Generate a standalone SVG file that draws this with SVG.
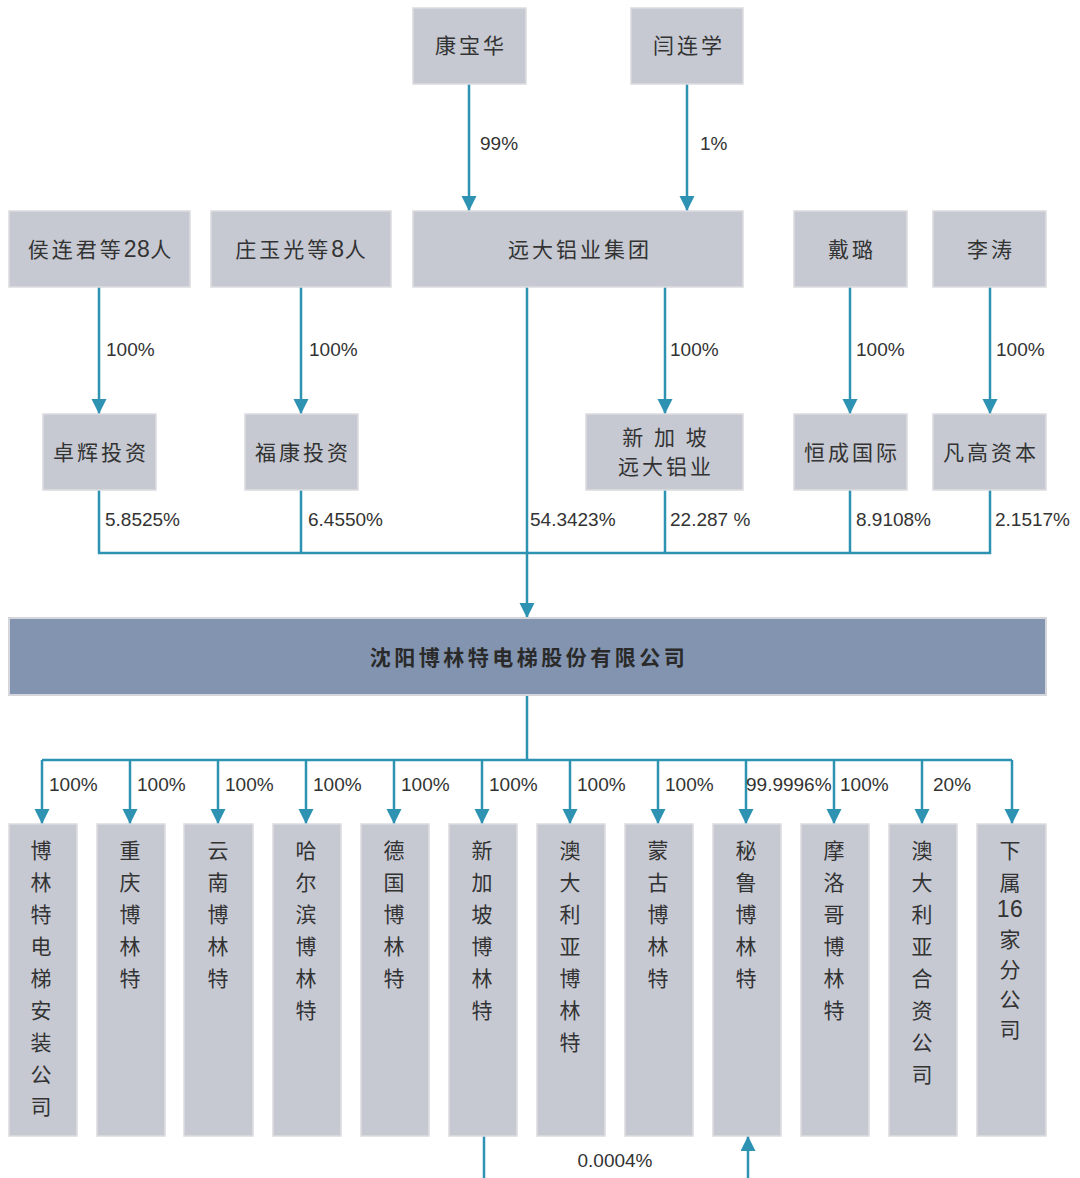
<svg xmlns="http://www.w3.org/2000/svg" width="1080" height="1178" viewBox="0 0 1080 1178">
<style>
.box{fill:#c6c9d2;stroke:#dcdcdf;stroke-width:1.5}
.main{fill:#8294b0;stroke:#d4d6dc;stroke-width:2}
.t{font-family:"Noto Sans CJK SC","Liberation Sans",sans-serif;font-size:21px;fill:#333;text-anchor:middle;letter-spacing:3px}
.tb{font-family:"Noto Sans CJK SC","Liberation Sans",sans-serif;font-size:21px;font-weight:bold;fill:#2a2a2a;text-anchor:middle;letter-spacing:3.5px}
.v{font-family:"Noto Sans CJK SC","Liberation Sans",sans-serif;font-size:21px;fill:#333;text-anchor:middle}
.num{font-family:"Liberation Sans",Arial,sans-serif;letter-spacing:0.5px}
.lbl{font-family:"Liberation Sans",Arial,sans-serif;font-size:19px;fill:#333}
.ln{fill:none;stroke:#2e93b2;stroke-width:2.5}
</style>
<defs>
<marker id="arr" markerUnits="userSpaceOnUse" markerWidth="16" markerHeight="16" refX="15" refY="7.5" orient="auto">
<path d="M0,0 L15,7.5 L0,15 z" fill="#2e93b2"/>
</marker>
</defs>

<g id="connectors">
<line class="ln" x1="469" y1="84" x2="469" y2="211" marker-end="url(#arr)"/>
<line class="ln" x1="687" y1="84" x2="687" y2="211" marker-end="url(#arr)"/>
<line class="ln" x1="99" y1="287" x2="99" y2="414" marker-end="url(#arr)"/>
<line class="ln" x1="301" y1="287" x2="301" y2="414" marker-end="url(#arr)"/>
<line class="ln" x1="665" y1="287" x2="665" y2="414" marker-end="url(#arr)"/>
<line class="ln" x1="850" y1="287" x2="850" y2="414" marker-end="url(#arr)"/>
<line class="ln" x1="990" y1="287" x2="990" y2="414" marker-end="url(#arr)"/>
<polyline class="ln" points="99,490 99,553 990,553 990,490"/>
<line class="ln" x1="301" y1="490" x2="301" y2="553"/>
<line class="ln" x1="665" y1="490" x2="665" y2="553"/>
<line class="ln" x1="850" y1="490" x2="850" y2="553"/>
<line class="ln" x1="527" y1="287" x2="527" y2="618" marker-end="url(#arr)"/>
<line class="ln" x1="527" y1="695" x2="527" y2="760"/>
<line class="ln" x1="42" y1="760" x2="1012" y2="760"/>
<line class="ln" x1="42" y1="760" x2="42" y2="824" marker-end="url(#arr)"/>
<line class="ln" x1="130" y1="760" x2="130" y2="824" marker-end="url(#arr)"/>
<line class="ln" x1="218" y1="760" x2="218" y2="824" marker-end="url(#arr)"/>
<line class="ln" x1="306" y1="760" x2="306" y2="824" marker-end="url(#arr)"/>
<line class="ln" x1="394" y1="760" x2="394" y2="824" marker-end="url(#arr)"/>
<line class="ln" x1="482" y1="760" x2="482" y2="824" marker-end="url(#arr)"/>
<line class="ln" x1="570" y1="760" x2="570" y2="824" marker-end="url(#arr)"/>
<line class="ln" x1="658" y1="760" x2="658" y2="824" marker-end="url(#arr)"/>
<line class="ln" x1="746" y1="760" x2="746" y2="824" marker-end="url(#arr)"/>
<line class="ln" x1="834" y1="760" x2="834" y2="824" marker-end="url(#arr)"/>
<line class="ln" x1="922" y1="760" x2="922" y2="824" marker-end="url(#arr)"/>
<line class="ln" x1="1012" y1="760" x2="1012" y2="824" marker-end="url(#arr)"/>
<line class="ln" x1="484" y1="1136" x2="484" y2="1178"/>
<line class="ln" x1="748" y1="1178" x2="748" y2="1136" marker-end="url(#arr)"/>

<text class="lbl" x="480" y="150">99%</text>
<text class="lbl" x="700" y="150">1%</text>
<text class="lbl" x="106" y="356">100%</text>
<text class="lbl" x="309" y="356">100%</text>
<text class="lbl" x="670" y="356">100%</text>
<text class="lbl" x="856" y="356">100%</text>
<text class="lbl" x="996" y="356">100%</text>
<text class="lbl" x="105" y="526">5.8525%</text>
<text class="lbl" x="308" y="526">6.4550%</text>
<text class="lbl" x="530" y="526">54.3423%</text>
<text class="lbl" x="670" y="526">22.287 %</text>
<text class="lbl" x="856" y="526">8.9108%</text>
<text class="lbl" x="995" y="526">2.1517%</text>
<text class="lbl" x="49" y="791">100%</text>
<text class="lbl" x="137" y="791">100%</text>
<text class="lbl" x="225" y="791">100%</text>
<text class="lbl" x="313" y="791">100%</text>
<text class="lbl" x="401" y="791">100%</text>
<text class="lbl" x="489" y="791">100%</text>
<text class="lbl" x="577" y="791">100%</text>
<text class="lbl" x="665" y="791">100%</text>
<text class="lbl" x="746" y="791">99.9996%</text>
<text class="lbl" x="840" y="791">100%</text>
<text class="lbl" x="933" y="791">20%</text>
<text class="lbl" x="615" y="1167" text-anchor="middle">0.0004%</text>
</g>

<g id="n-kangbaohua"><rect class="box" x="413" y="8" width="113" height="76"/><text class="t" x="471" y="53">康宝华</text></g>
<g id="n-yanlianxue"><rect class="box" x="631" y="8" width="112" height="76"/><text class="t" x="689" y="53">闫连学</text></g>
<g id="n-yuanda"><rect class="box" x="413" y="211" width="330" height="76"/><text class="t" x="580" y="257">远大铝业集团</text></g>
<g id="n-houlianjun"><rect class="box" x="9" y="211" width="181" height="76"/><text class="t" x="101" y="257">侯连君等<tspan class="num" font-size="23">28</tspan>人</text></g>
<g id="n-zhuangyuguang"><rect class="box" x="211" y="211" width="180" height="76"/><text class="t" x="302" y="257">庄玉光等<tspan class="num" font-size="23">8</tspan>人</text></g>
<g id="n-dailu"><rect class="box" x="794" y="211" width="113" height="76"/><text class="t" x="852" y="257">戴璐</text></g>
<g id="n-litao"><rect class="box" x="933" y="211" width="113" height="76"/><text class="t" x="991" y="257">李涛</text></g>

<g id="n-zhuohui"><rect class="box" x="43" y="414" width="113" height="76"/><text class="t" x="101" y="460">卓辉投资</text></g>
<g id="n-fukang"><rect class="box" x="245" y="414" width="113" height="76"/><text class="t" x="303" y="460">福康投资</text></g>
<g id="n-sgyuanda"><rect class="box" x="586" y="414" width="157" height="76"/><text class="t" x="666" y="445">新 加 坡</text><text class="t" x="666" y="474">远大铝业</text></g>
<g id="n-hengcheng"><rect class="box" x="794" y="414" width="113" height="76"/><text class="t" x="852" y="460">恒成国际</text></g>
<g id="n-fangao"><rect class="box" x="933" y="414" width="113" height="76"/><text class="t" x="991" y="460">凡高资本</text></g>

<g id="n-main"><rect class="main" x="9" y="618" width="1037" height="77"/><text class="tb" x="529" y="665">沈阳博林特电梯股份有限公司</text></g>

<g id="n-s1"><rect class="box" x="9" y="824" width="68" height="312"/><text class="v"><tspan x="41" y="858">博</tspan><tspan x="41" y="890">林</tspan><tspan x="41" y="922">特</tspan><tspan x="41" y="954">电</tspan><tspan x="41" y="986">梯</tspan><tspan x="41" y="1018">安</tspan><tspan x="41" y="1050">装</tspan><tspan x="41" y="1082">公</tspan><tspan x="41" y="1114">司</tspan></text></g>
<g id="n-s2"><rect class="box" x="97" y="824" width="68" height="312"/><text class="v"><tspan x="130" y="858">重</tspan><tspan x="130" y="890">庆</tspan><tspan x="130" y="922">博</tspan><tspan x="130" y="954">林</tspan><tspan x="130" y="986">特</tspan></text></g>
<g id="n-s3"><rect class="box" x="184" y="824" width="69" height="312"/><text class="v"><tspan x="218" y="858">云</tspan><tspan x="218" y="890">南</tspan><tspan x="218" y="922">博</tspan><tspan x="218" y="954">林</tspan><tspan x="218" y="986">特</tspan></text></g>
<g id="n-s4"><rect class="box" x="273" y="824" width="68" height="312"/><text class="v"><tspan x="306" y="858">哈</tspan><tspan x="306" y="890">尔</tspan><tspan x="306" y="922">滨</tspan><tspan x="306" y="954">博</tspan><tspan x="306" y="986">林</tspan><tspan x="306" y="1018">特</tspan></text></g>
<g id="n-s5"><rect class="box" x="361" y="824" width="68" height="312"/><text class="v"><tspan x="394" y="858">德</tspan><tspan x="394" y="890">国</tspan><tspan x="394" y="922">博</tspan><tspan x="394" y="954">林</tspan><tspan x="394" y="986">特</tspan></text></g>
<g id="n-s6"><rect class="box" x="449" y="824" width="68" height="312"/><text class="v"><tspan x="482" y="858">新</tspan><tspan x="482" y="890">加</tspan><tspan x="482" y="922">坡</tspan><tspan x="482" y="954">博</tspan><tspan x="482" y="986">林</tspan><tspan x="482" y="1018">特</tspan></text></g>
<g id="n-s7"><rect class="box" x="537" y="824" width="68" height="312"/><text class="v"><tspan x="570" y="858">澳</tspan><tspan x="570" y="890">大</tspan><tspan x="570" y="922">利</tspan><tspan x="570" y="954">亚</tspan><tspan x="570" y="986">博</tspan><tspan x="570" y="1018">林</tspan><tspan x="570" y="1050">特</tspan></text></g>
<g id="n-s8"><rect class="box" x="625" y="824" width="68" height="312"/><text class="v"><tspan x="658" y="858">蒙</tspan><tspan x="658" y="890">古</tspan><tspan x="658" y="922">博</tspan><tspan x="658" y="954">林</tspan><tspan x="658" y="986">特</tspan></text></g>
<g id="n-s9"><rect class="box" x="713" y="824" width="68" height="312"/><text class="v"><tspan x="746" y="858">秘</tspan><tspan x="746" y="890">鲁</tspan><tspan x="746" y="922">博</tspan><tspan x="746" y="954">林</tspan><tspan x="746" y="986">特</tspan></text></g>
<g id="n-s10"><rect class="box" x="801" y="824" width="68" height="312"/><text class="v"><tspan x="834" y="858">摩</tspan><tspan x="834" y="890">洛</tspan><tspan x="834" y="922">哥</tspan><tspan x="834" y="954">博</tspan><tspan x="834" y="986">林</tspan><tspan x="834" y="1018">特</tspan></text></g>
<g id="n-s11"><rect class="box" x="889" y="824" width="68" height="312"/><text class="v"><tspan x="922" y="858">澳</tspan><tspan x="922" y="890">大</tspan><tspan x="922" y="922">利</tspan><tspan x="922" y="954">亚</tspan><tspan x="922" y="986">合</tspan><tspan x="922" y="1018">资</tspan><tspan x="922" y="1050">公</tspan><tspan x="922" y="1082">司</tspan></text></g>
<g id="n-s12"><rect class="box" x="977" y="824" width="69" height="312"/><text class="v"><tspan x="1010" y="858">下</tspan><tspan x="1010" y="890">属</tspan><tspan x="1010" y="917" class="num" font-size="23">16</tspan><tspan x="1010" y="947">家</tspan><tspan x="1010" y="977">分</tspan><tspan x="1010" y="1007">公</tspan><tspan x="1010" y="1037">司</tspan></text></g>
</svg>
